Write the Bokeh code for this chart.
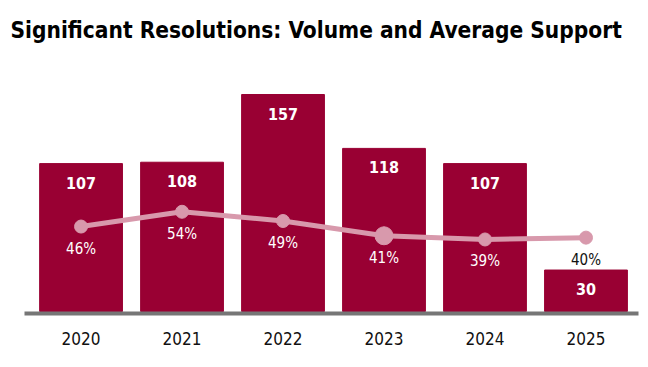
from bokeh.plotting import figure
from bokeh.models import ColumnDataSource, Range1d, FixedTicker
from bokeh.core.properties import value
from bokeh.embed import file_html
from bokeh.resources import INLINE

years = ["2020", "2021", "2022", "2023", "2024", "2025"]
volume = [107, 108, 157, 118, 107, 30]
support = [46, 54, 49, 41, 39, 40]
marker_size = [13, 13, 13, 18, 13, 13]

BAR = "#990033"
LINE = "#D899AC"
FONT = "DejaVu Sans Condensed"

x = list(range(len(years)))
pct_labels = [f"{v}%" for v in support]
pct_colors = ["white"] * (len(years) - 1) + ["#111111"]

src = ColumnDataSource(dict(x=x, vol=volume, vol_lbl=[str(v) for v in volume],
                            sup=support, sup_lbl=pct_labels, sup_col=pct_colors,
                            msize=marker_size))

p = figure(width=644, height=358, output_backend="svg", toolbar_location=None,
           x_range=Range1d(-0.56, 5.52), y_range=Range1d(-1.45, 181.6),
           min_border_left=24, min_border_right=6, min_border_top=60, min_border_bottom=45,
           title="Significant Resolutions: Volume and Average Support")
p.extra_y_ranges = {"pct": Range1d(-1.08, 135.9)}

p.title.text_font = FONT
p.title.text_font_size = "22.5px"
p.title.text_font_style = "bold"
p.title.text_color = "#000000"
p.title.offset = -14
p.title.standoff = 31
p.title.vertical_align = "top"

p.vbar(x="x", top="vol", width=0.82, bottom=0, color=BAR, source=src)

p.text(x="x", y="vol", text="vol_lbl", source=src, text_color="white",
       text_font=value(FONT), text_font_size="16px", text_font_style="bold",
       text_align="center", text_baseline="middle", y_offset=19)

p.line(x="x", y="sup", source=src, line_color=LINE, line_width=5, y_range_name="pct")
p.scatter(x="x", y="sup", size="msize", source=src, color=LINE, y_range_name="pct")

p.text(x="x", y="sup", text="sup_lbl", source=src, text_color="sup_col",
       text_font=value(FONT), text_font_size="15px",
       text_align="center", text_baseline="middle", y_offset=22, y_range_name="pct")

p.yaxis.visible = False
p.xgrid.visible = False
p.ygrid.visible = False
p.outline_line_color = None

ax = p.xaxis[0]
ax.ticker = FixedTicker(ticks=x)
ax.major_label_overrides = {i: y for i, y in zip(x, years)}
ax.axis_line_color = "#767676"
ax.axis_line_width = 4
ax.major_tick_line_color = None
ax.minor_tick_line_color = None
ax.major_label_standoff = 12
ax.major_label_text_font = FONT
ax.major_label_text_font_size = "17px"
ax.major_label_text_color = "#111111"

open("out.html", "w").write(file_html(p, INLINE))
